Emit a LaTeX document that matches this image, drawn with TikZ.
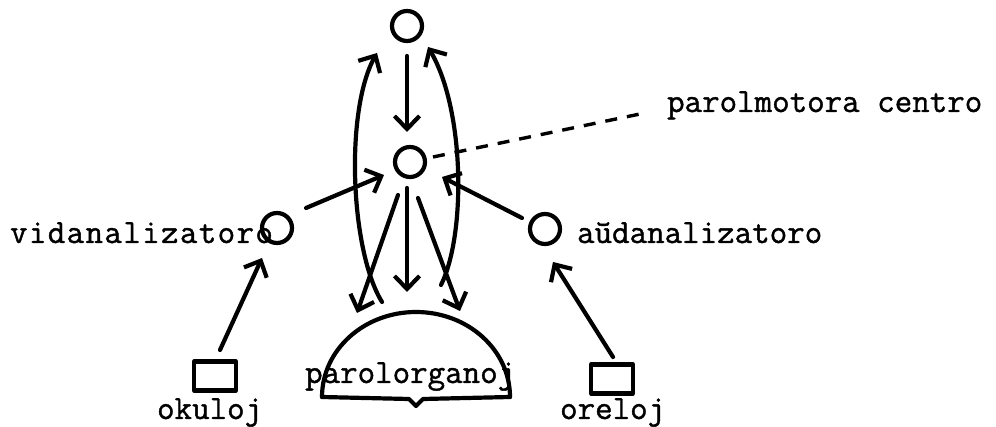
\documentclass[tikz,border=0pt]{standalone}
\usepackage{fontspec}
\setmonofont[FakeBold=1.2]{Latin Modern Mono}
\usetikzlibrary{arrows.meta}
\begin{document}
\begin{tikzpicture}[x=1pt,y=-1pt,line width=4.2pt,line cap=round,line join=round,
  arr/.style={-{Straight Barb[length=13pt,width=25pt]}},
  ring/.style={circle,draw,minimum size=30pt,inner sep=0pt},
  sq/.style={rectangle,draw,minimum width=42pt,minimum height=29pt,inner sep=0pt},
  lbl/.style={font=\ttfamily\fontsize{34}{36}\selectfont,inner sep=0pt,anchor=base west},
  dsh/.style={line width=3.4pt,dash pattern=on 12pt off 10pt,line cap=butt}]
\useasboundingbox (0,0) rectangle (996,427);
% circles and boxes
\node[ring] (top) at (407,26) {};
\node[ring] (mid) at (410,162) {};
\node[ring] (vc) at (277,228) {};
\node[ring] (ac) at (545,229) {};
\node[sq] (ok) at (215,376) {};
\node[sq] (or) at (612,379) {};
% labels
\node[lbl] (vl) at (8,243) {\addfontfeature{LetterSpace=4}vidanalizatoro};
\node[lbl] (al) at (575,243) {aŭdanalizatoro};
\node[lbl] (pm) at (665,112) {parolmotora centro};
\node[lbl] (po) at (303,383) {parolorganoj};
\node[lbl] (okl) at (155,419) {okuloj};
\node[lbl] (orl) at (558,419) {oreloj};
% dome (parolorganoj)
\draw (322,397) .. controls (322,350) and (364,312) .. (416,312)
      .. controls (468,312) and (510,350) .. (510,397);
\draw (322,397) -- (409,399) -- (416,406) -- (423,399) -- (510,397);
% connector end points
\coordinate (topS) at (407,56);
\coordinate (midN) at (407,132);
\coordinate (vcE) at (306,208);
\coordinate (midW) at (384,175);
\coordinate (acW) at (522,218);
\coordinate (midE) at (442,177);
\coordinate (okN) at (220,350);
\coordinate (vcS) at (262,258);
\coordinate (orN) at (613,357);
\coordinate (acS) at (553,262);
\coordinate (midSW) at (398,195);
\coordinate (midS) at (407,188);
\coordinate (midSE) at (418,198);
\coordinate (poL) at (357,313);
\coordinate (poC) at (407,292);
\coordinate (poR) at (460,311);
\coordinate (arcL) at (382,302);
\coordinate (arcR) at (441,285);
\coordinate (topL) at (377,53);
\coordinate (topR) at (428,47);
\coordinate (dashA) at (433,157);
\coordinate (dashB) at (640,114);
% connectors
\draw[arr] (topS) -- (midN);
\draw[arr] (vcE) -- (midW);
\draw[arr] (acW) -- (midE);
\draw[arr] (okN) -- (vcS);
\draw[arr] (orN) -- (acS);
\draw[arr] (midSW) -- (poL);
\draw[arr] (midS) -- (poC);
\draw[arr] (midSE) -- (poR);
\draw[arr] (arcL) .. controls (350,250) and (345,110) .. (topL);
\draw[arr] (arcR) .. controls (466,235) and (465,110) .. (topR);
\draw[dsh] (dashA) -- (dashB);
\end{tikzpicture}
\end{document}
